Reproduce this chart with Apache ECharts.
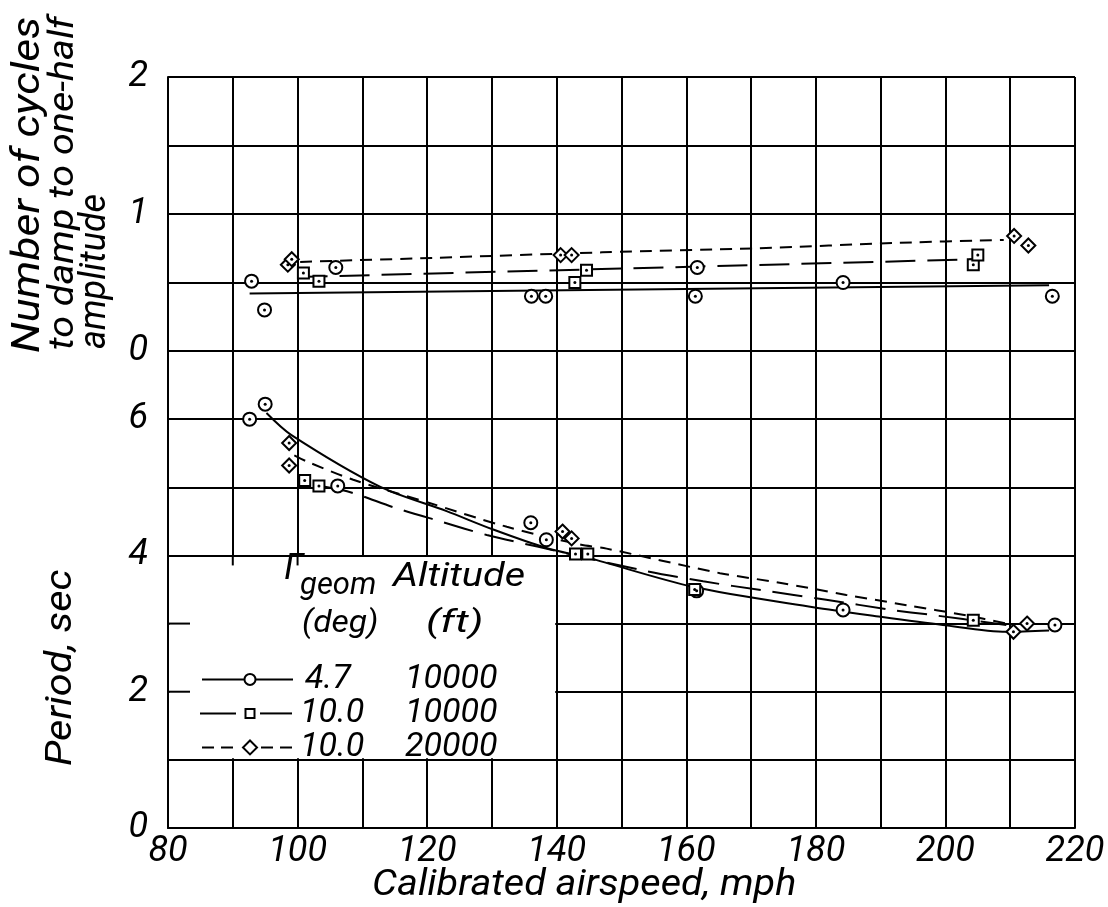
<!DOCTYPE html>
<html><head><meta charset="utf-8">
<script src="https://cdn.jsdelivr.net/npm/echarts@6/dist/echarts.min.js"></script>
<style>html,body{margin:0;padding:0;background:#fff}#c{width:1108px;height:907px}</style>
</head><body><div id="c"></div>
<script>
// ---- tick labels ----
const xTickLabels = ['80','100','120','140','160','180','200','220'];
const cyclesTickLabels = ['0','1','2'];
const periodTickLabels = ['0','2','4','6'];

// ---- top panel: number of cycles to damp to one-half amplitude ----
const cycles47 = [[92.9,0.51],[94.9,0.30],[105.9,0.61],[136.1,0.40],[138.3,0.40],[161.7,0.61],[161.4,0.40],[184.2,0.50],[216.5,0.40]];
const cycles10a = [[100.9,0.57],[103.3,0.51],[142.8,0.50],[144.6,0.59],[204.3,0.63],[205.0,0.70]];
const cycles10b = [[98.5,0.63],[99.1,0.67],[140.6,0.70],[142.3,0.70],[210.6,0.84],[212.8,0.77]];
const cyclesFit47 = [[92.6,0.42],[216.0,0.48]];
const cyclesFit10a = [[100.0,0.54],[205.0,0.67]];
const cyclesFit10b = [[100.4,0.65],[121.0,0.68],[147.0,0.72],[171.0,0.75],[193.0,0.79],[209.0,0.81]];

// ---- bottom panel: period, sec ----
const period47 = [[92.6,6.00],[95.0,6.22],[106.2,5.02],[136.0,4.48],[138.4,4.23],[161.6,3.48],[184.2,3.20],[216.9,2.98]];
const period10a = [[101.1,5.10],[103.3,5.02],[142.9,4.02],[144.8,4.02],[161.3,3.50],[204.3,3.05]];
const period10b = [[98.7,5.65],[98.7,5.32],[140.9,4.35],[142.3,4.25],[210.5,2.88],[212.6,3.00]];
const periodFit47 = [[95.2,6.09],[99.0,5.77],[112.7,5.01],[123.0,4.65],[130.2,4.38],[138.4,4.11],[145.0,3.96],[161.0,3.54],[179.6,3.24],[190.0,3.10],[199.6,2.98],[209.4,2.88],[216.0,2.90]];
const periodFit10a = [[104.0,5.01],[108.4,4.92],[115.0,4.70],[122.4,4.49],[129.2,4.30],[137.0,4.13],[152.8,3.79],[162.6,3.62],[171.6,3.49],[181.6,3.35],[191.7,3.20],[197.6,3.13],[209.4,2.98]];
const periodFit10b = [[99.5,5.47],[101.4,5.38],[108.6,5.11],[120.0,4.78],[132.3,4.42],[143.6,4.16],[147.7,4.10],[165.2,3.74],[174.4,3.60],[184.7,3.42],[194.0,3.27],[203.2,3.12],[209.4,3.00]];

// ---- legend ----
const legendHeader = ['geom', 'Altitude', '(deg)', '(ft)'];
const legendRows = [['4.7','10000'],['10.0','10000'],['10.0','20000']];

const FONT = 'Roboto';
const ink = '#000';
const LONG = [30, 12];
const SHORT = [12, 8];

const chart = echarts.init(document.getElementById('c'), null, {renderer: 'canvas'});

const series = [];
function addSet(fit, dash, pts, sym, size, gi, smooth) {
  series.push({type:'line', xAxisIndex:gi, yAxisIndex:gi, data:fit, symbol:'none', showSymbol:false,
    smooth:smooth, lineStyle:{color:ink, width:2, type:dash}, z:3, silent:true});
  series.push({type:'scatter', xAxisIndex:gi, yAxisIndex:gi, data:pts, symbol:sym, symbolSize:size,
    itemStyle:{color:'#fff', borderColor:ink, borderWidth:2, opacity:1}, z:4, silent:true});
  series.push({type:'scatter', xAxisIndex:gi, yAxisIndex:gi, data:pts, symbol:'circle', symbolSize:3,
    itemStyle:{color:ink, opacity:1}, z:5, silent:true});
}
addSet(cyclesFit47, 'solid', cycles47, 'circle', 13, 0, false);
addSet(cyclesFit10a, LONG, cycles10a, 'rect', 11, 0, false);
addSet(cyclesFit10b, SHORT, cycles10b, 'diamond', 14, 0, 0.3);
addSet(periodFit47, 'solid', period47, 'circle', 13, 1, 0.3);
addSet(periodFit10a, LONG, period10a, 'rect', 11, 1, 0.3);
addSet(periodFit10b, SHORT, period10b, 'diamond', 14, 1, 0.3);

const lblStyle = {color:ink, fontFamily:FONT, fontStyle:'italic', fontSize:36};
const gridLine = {show:true, lineStyle:{color:ink, width:2}};

chart.setOption({
  animation:false,
  backgroundColor:'#fff',
  grid:[
    {left:168, right:33, top:77, height:274, containLabel:false},
    {left:168, right:33, top:351, height:477, containLabel:false}
  ],
  xAxis:[
    {gridIndex:0, type:'value', min:80, max:220, interval:10, axisLabel:{show:false}, axisTick:{show:false},
     axisLine:{show:false}, splitLine:gridLine},
    {gridIndex:1, type:'value', min:80, max:220, interval:10, axisTick:{show:false},
     axisLine:{show:true, onZero:false, lineStyle:{color:ink, width:2}}, splitLine:gridLine,
     axisLabel:Object.assign({margin:6, formatter:v => xTickLabels.includes(String(v)) ? String(v) : ''}, lblStyle)}
  ],
  yAxis:[
    {gridIndex:0, type:'value', min:0, max:2, interval:0.5, axisTick:{show:false},
     axisLine:{show:true, lineStyle:{color:ink, width:2}}, splitLine:gridLine,
     axisLabel:Object.assign({margin:20, formatter:v => cyclesTickLabels.includes(String(v)) ? String(v) : ''}, lblStyle)},
    {gridIndex:1, type:'value', min:0, max:7, interval:1, axisTick:{show:false},
     axisLine:{show:true, lineStyle:{color:ink, width:2}}, splitLine:gridLine,
     axisLabel:Object.assign({margin:20, formatter:v => periodTickLabels.includes(String(v)) ? String(v) : ''}, lblStyle)}
  ],
  series:series
});

// ---- annotation graphics (legend box, axis titles) ----
const p = (x, y) => chart.convertToPixel({gridIndex:1}, [x, y]);
const tl = p(80, 4), br = p(140, 1);
const x0 = tl[0], y0 = tl[1];
const txt = (x, y, text, fs, rot, sx) => ({type:'text', x:x, y:y, z:120, rotation:rot || 0, scaleX:sx || 1,
  style:{text:text, fill:ink, font:'italic ' + fs + 'px "' + FONT + '"', textAlign:'left', textVerticalAlign:'middle'}});
const ln = (a, b, c, d, dash) => ({type:'line', z:120, shape:{x1:a, y1:b, x2:c, y2:d},
  style:{stroke:ink, lineWidth:2, lineDash:dash || null}});

const g = [];
g.push({type:'rect', z:100, shape:{x:x0 + 1.5, y:y0 + 1.5, width:br[0] - x0 - 3, height:br[1] - y0 - 3}, style:{fill:'#fff'}});
[3, 2].forEach(v => { const q = p(80, v); g.push(ln(q[0], q[1], q[0] + 22, q[1])); });
[90, 100].forEach(v => { const q = p(v, 4); g.push(ln(q[0], q[1], q[0], q[1] + 10)); });

// legend header
g.push(txt(x0 + 116, y0 + 15, 'Γ', 36));
g.push(txt(x0 + 132, y0 + 31, legendHeader[0], 31));
g.push(txt(x0 + 225, y0 + 22, legendHeader[1], 33, 0, 1.2));
g.push(txt(x0 + 134, y0 + 69, legendHeader[2], 32, 0, 1.05));
g.push(txt(x0 + 258, y0 + 69, legendHeader[3], 32, 0, 1.35));
// legend rows
const rowY = [y0 + 124, y0 + 158, y0 + 192];
const sx = x0 + 82;
g.push(ln(x0 + 34, rowY[0], x0 + 125, rowY[0]));
g.push({type:'circle', z:121, shape:{cx:sx, cy:rowY[0], r:5.5}, style:{fill:'#fff', stroke:ink, lineWidth:2}});
g.push(ln(x0 + 32, rowY[1], x0 + 68, rowY[1]));
g.push(ln(x0 + 92, rowY[1], x0 + 124, rowY[1]));
g.push({type:'rect', z:121, shape:{x:sx - 4.5, y:rowY[1] - 4.5, width:9, height:9}, style:{fill:'#fff', stroke:ink, lineWidth:2}});
g.push(ln(x0 + 34, rowY[2], x0 + 72, rowY[2], [12, 7]));
g.push(ln(x0 + 93, rowY[2], x0 + 128, rowY[2], [12, 7]));
g.push({type:'polygon', z:121, shape:{points:[[sx, rowY[2] - 7], [sx + 7, rowY[2]], [sx, rowY[2] + 7], [sx - 7, rowY[2]]]}, style:{fill:'#fff', stroke:ink, lineWidth:2}});
legendRows.forEach((r, i) => {
  g.push(txt(x0 + (i === 0 ? 137 : 132), rowY[i], r[0], 34));
  g.push(txt(x0 + 237, rowY[i], r[1], 34));
});

// axis titles
const R = Math.PI / 2;
g.push(txt(372, 886, 'Calibrated airspeed, mph', 36, 0, 1.1));
g.push(txt(29, 353, 'Number of cycles', 38, R, 1.17));
g.push(txt(64, 350, 'to damp to one-half', 35, R, 1.13));
g.push(txt(96, 349, 'amplitude', 36, R));
g.push(txt(62, 766, 'Period, sec', 37, R, 1.12));

chart.setOption({graphic:{elements:g}});
</script>
</body></html>
